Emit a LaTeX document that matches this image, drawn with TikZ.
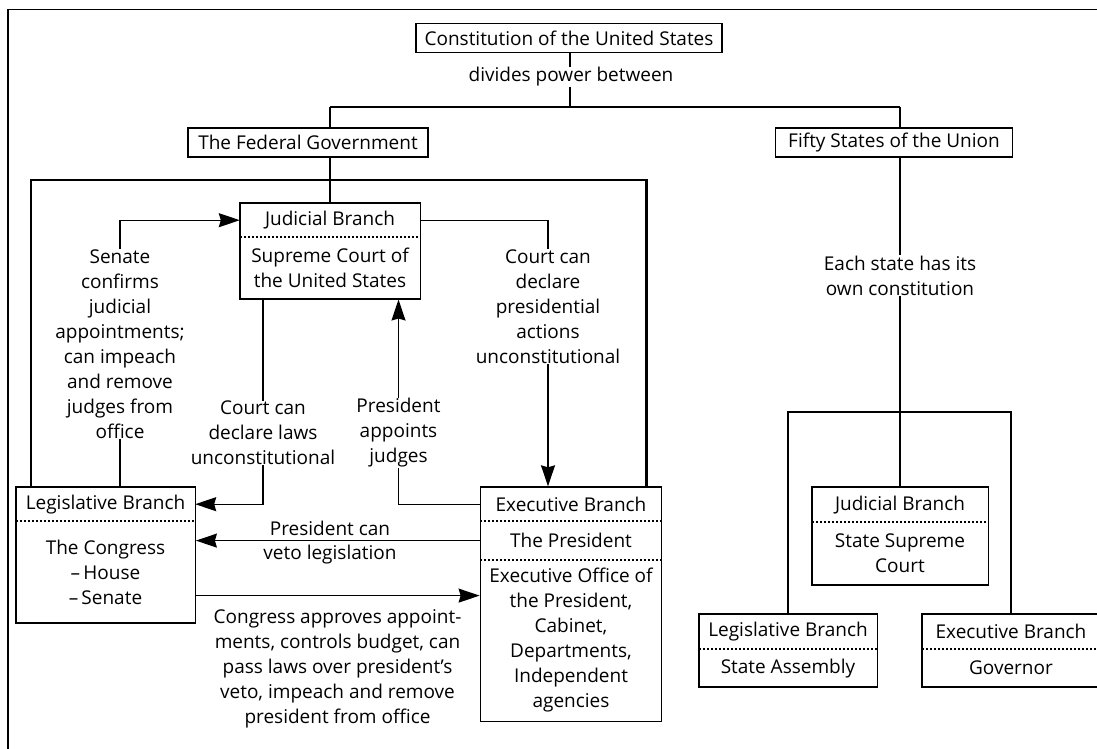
\documentclass[tikz,border=0pt]{standalone}
\usepackage{fontspec}
\setmainfont{Open Sans}
\usetikzlibrary{arrows.meta,fit}

\begin{document}
\begin{tikzpicture}[x=1pt,y=-1pt,line join=miter,
	font=\fontsize{19}{25}\selectfont,
	lbl/.style={align=center,inner sep=0pt},
	titlebox/.style={draw,line width=1.4pt,inner sep=0pt,minimum height=29pt},
	cell/.style={inner sep=0pt,align=center,minimum width=#1,anchor=north},
	frame/.style={draw,line width=1.4pt,inner sep=0pt},
	trunk/.style={line width=2.8pt},
	link/.style={line width=1.4pt},
	tip/.style={link,-{Stealth[length=21pt,width=14pt,inset=2pt]}},
	sep/.style={line width=2pt,dash pattern=on 2pt off 2pt}]
	\useasboundingbox (0,0) rectangle (1097,749);
	
	% page border
	\draw[line width=1.6pt] (8,749) -- (8,9.5) -- (1097,9.5);
	
	% top of the chart
	\node[titlebox,minimum width=306pt] (constitution) at (569,38) {Constitution of the United States};
	\node[lbl] (divides) at (571,77) {divides power between};
	\node[titlebox,minimum width=240pt] (federal) at (308,142.5) {The Federal Government};
	\node[titlebox,minimum width=237pt] (fifty) at (894,142.5) {Fifty States of the Union};
	
	\coordinate (split) at (570,107);
	\coordinate (fedfork) at (330,107);
	\coordinate (statefork) at (900,107);
	\coordinate (fedleft) at (31,180);
	\coordinate (fedright) at (646.5,180);
	\coordinate (statebar) at (900,412);
	
	% federal branches
	\node[cell=180pt,minimum height=34pt] (judtop) at (330,203) {Judicial Branch};
	\node[cell=180pt,minimum height=61pt] (judlow) at (judtop.south) {Supreme Court of\\the United States};
	\node[frame,fit=(judtop)(judlow)] (judicial) {};
	
	\node[cell=179pt,minimum height=34pt] (legtop) at (105.5,487) {Legislative Branch};
	\node[cell=179pt,minimum height=101pt] (leglow) at (legtop.south) {The Congress\\–\,House\\–\,Senate};
	\node[frame,fit=(legtop)(leglow)] (legislative) {};
	
	\node[cell=181pt,minimum height=34pt] (exectop) at (571,487) {Executive Branch};
	\node[cell=181pt,minimum height=38pt] (execmid) at (exectop.south) {The President};
	\node[cell=181pt,minimum height=161pt] (execlow) at (execmid.south) {Executive Office of\\the President,\\Cabinet,\\Departments,\\Independent\\agencies};
	\node[frame,fit=(exectop)(execlow)] (executive) {};
	
	% state branches
	\node[cell=176pt,minimum height=35pt] (sjudtop) at (900,487) {Judicial Branch};
	\node[cell=176pt,minimum height=62pt] (sjudlow) at (sjudtop.south) {State Supreme\\Court};
	\node[frame,fit=(sjudtop)(sjudlow)] (sjudicial) {};
	
	\node[cell=178pt,minimum height=35pt] (slegtop) at (788,614) {Legislative Branch};
	\node[cell=178pt,minimum height=37pt] (sleglow) at (slegtop.south) {State Assembly};
	\node[frame,fit=(slegtop)(sleglow)] (slegislative) {};
	
	\node[cell=178pt,minimum height=35pt] (sexectop) at (1011,614) {Executive Branch};
	\node[cell=178pt,minimum height=37pt] (sexeclow) at (sexectop.south) {Governor};
	\node[frame,fit=(sexectop)(sexeclow)] (sexecutive) {};
	
	\foreach \part in {judtop,legtop,exectop,execmid,sjudtop,slegtop,sexectop}
	\draw[sep] (\part.south west) -- (\part.south east);
	
	% checks and balances
	\node[lbl] (senate) at (120,344) {Senate\\confirms\\judicial\\appointments;\\can impeach\\and remove\\judges from\\office};
	\node[lbl] (courtpres) at (548,306.5) {Court can\\declare\\presidential\\actions\\unconstitutional};
	\node[lbl] (courtlaws) at (263,433) {Court can\\declare laws\\unconstitutional};
	\node[lbl] (presappt) at (398.5,433) {President\\appoints\\judges};
	\node[lbl,anchor=south] (vetoup) at (330,536) {President can};
	\node[lbl,anchor=north] (vetodown) at (330,545) {veto legislation};
	\node[lbl] (congress) at (337.5,668.5) {Congress approves appoint-\\ments, controls budget, can\\pass laws over president’s\\veto, impeach and remove\\president from office};
	\node[lbl] (eachstate) at (900,275.5) {Each state has its\\own constitution};
	
	% chart lines
	\draw[trunk] (constitution.south -| split) -- (divides.north -| split);
	\draw[trunk] (divides.south -| split) -- (split);
	\draw[trunk] (fedfork) -- (statefork);
	\draw[trunk] (fedfork) -- (fedfork |- federal.north);
	\draw[trunk] (statefork) -- (statefork |- fifty.north);
	\draw[trunk] (federal.south -| judicial.north) -- (judicial.north);
	\draw[trunk] (legislative.north -| fedleft) -- (fedleft) -- (fedright) -- (fedright |- executive.north);
	\draw[trunk] (fifty.south -| statefork) -- (eachstate.north);
	\draw[trunk] (eachstate.south) -- (sjudicial.north);
	\draw[trunk] (slegislative.north) |- (statebar) -| (sexecutive.north);
	
	% arrows between branches
	\draw[tip] (senate.north) |- (judtop.west);
	\draw[link] (senate.south) -- (senate.south |- legislative.north);
	\draw[link] (judtop.east) -| (courtpres.north);
	\draw[tip] (courtpres.south) -- (courtpres.south |- executive.north);
	\draw[link] (judicial.south -| courtlaws) -- (courtlaws.north);
	\draw[tip] (courtlaws.south) |- (legtop.east);
	\draw[link] (exectop.west) -| (presappt.south);
	\draw[tip] (presappt.north) -- (presappt.north |- judicial.south);
	\draw[tip] (execmid.west) -- (execmid.west -| legislative.east);
	\draw[tip] ([yshift=-23.5pt]leglow.east) -- ([yshift=-23.5pt]leglow.east -| executive.west);
\end{tikzpicture}
\end{document}
